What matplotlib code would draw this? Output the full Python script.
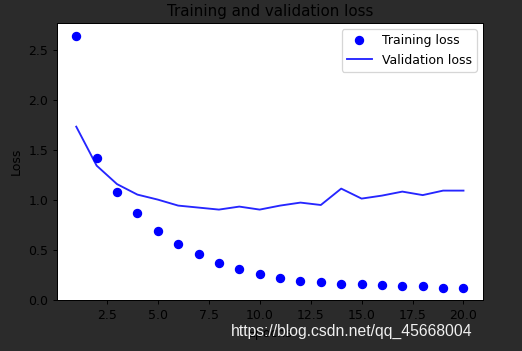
import matplotlib
matplotlib.use("Agg")
import matplotlib.pyplot as plt

epochs = list(range(1, 21))
loss = [2.64, 1.42, 1.08, 0.87, 0.69, 0.56, 0.46, 0.37, 0.31, 0.26,
        0.22, 0.19, 0.18, 0.16, 0.155, 0.145, 0.14, 0.135, 0.12, 0.12]
val_loss = [1.73, 1.34, 1.155, 1.05, 1.00, 0.94, 0.92, 0.90, 0.93, 0.90,
            0.94, 0.97, 0.946, 1.11, 1.01, 1.04, 1.08, 1.045, 1.09, 1.09]

fig = plt.figure(figsize=(5.8, 3.9), dpi=90, facecolor="#2b2b2b")
ax = fig.add_axes([0.109, 0.145, 0.816, 0.789])
ax.set_facecolor("white")

ax.plot(epochs, loss, "bo", label="Training loss", markersize=6.5)
ax.plot(epochs, val_loss, "b", label="Validation loss", alpha=0.85)
ax.set_title("Training and validation loss")
ax.set_xlabel("Epochs")
ax.set_ylabel("Loss")
ax.legend()

# csdn watermark over the x label
fig.text(0.906, 0.055, "https://blog.csdn.net/qq_45668004", ha="right", va="center",
         color="#f0f0f0", fontsize=12.6, family="Liberation Sans")

fig.savefig("out.png", dpi=90, facecolor=fig.get_facecolor())
